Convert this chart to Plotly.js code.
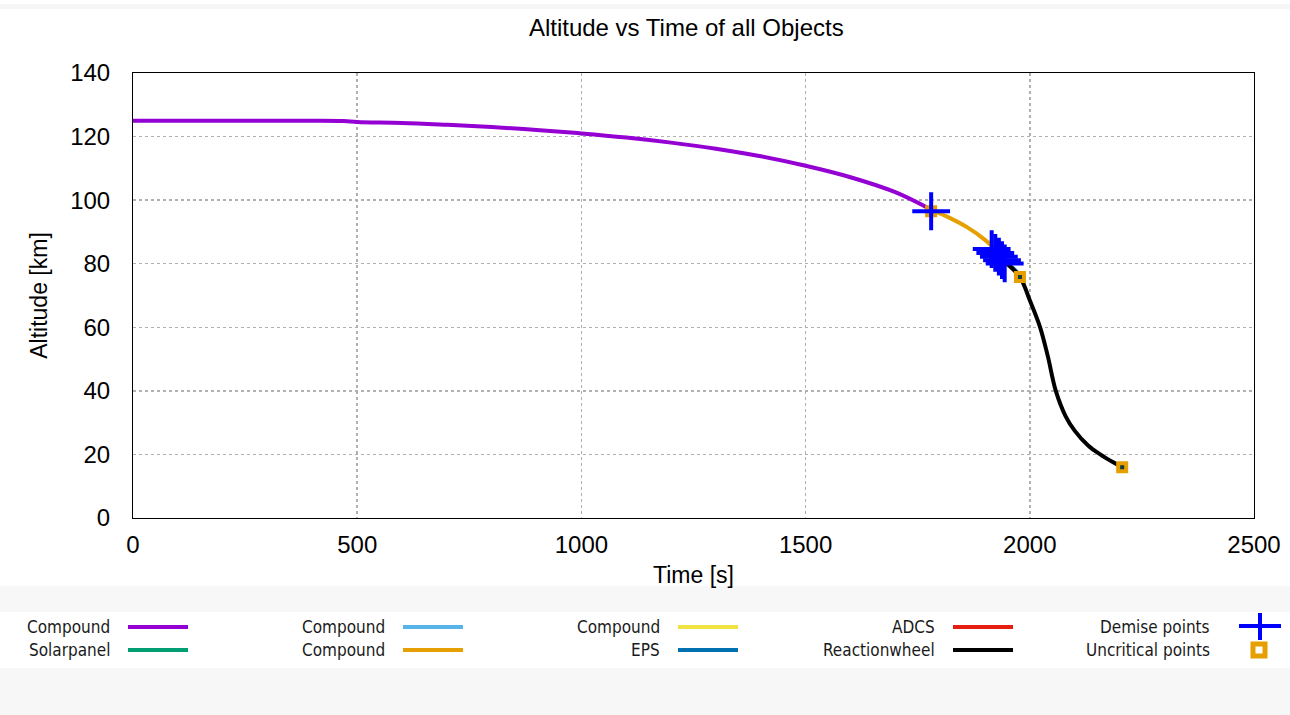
<!DOCTYPE html>
<html>
<head>
<meta charset="utf-8">
<script src="https://cdn.plot.ly/plotly-3.0.1.min.js"></script>
<style>html,body{margin:0;padding:0;background:#fff;}#chart{width:1290px;height:715px;}</style>
</head>
<body>
<div id="chart"></div>
<script>
// Data
const purpleT = [0, 100, 200, 300, 400, 470, 500, 600, 700, 800, 900, 1000, 1100, 1200, 1300, 1400, 1500, 1600, 1700, 1780];
const purpleAlt = [125, 125, 125, 125, 125, 124.9, 124.6, 124.3, 123.7, 123, 122.1, 121, 119.7, 118.1, 116.2, 113.8, 110.8, 107.2, 102.5, 97];
const orangeT = [1780, 1820, 1860, 1900, 1930, 1945];
const orangeAlt = [97, 94.5, 91.5, 87.5, 83.5, 80.5];
const epsT = [1945, 1965, 1980];
const epsAlt = [80.5, 78.3, 76];
const wheelT = [1945, 1978, 2000, 2023, 2040, 2058, 2080, 2100, 2130, 2157, 2185, 2206];
const wheelAlt = [80.5, 75.8, 68.5, 60, 51, 40, 32, 27.5, 22.8, 20, 17.6, 16];
const demiseT = [1780, 1915, 1923, 1931, 1938, 1944];
const demiseAlt = [96.5, 84.6, 83.4, 82.2, 81.1, 80.1];
const uncritT = [1780, 1978, 2206];
const uncritAlt = [96.5, 75.8, 16];
const legendNames = ["Compound", "Solarpanel", "Compound", "Compound", "Compound", "EPS", "ADCS", "Reactionwheel", "Demise points", "Uncritical points"];
const legendColors = ["#9400D3", "#009E73", "#56B4E9", "#E69F00", "#F0E442", "#0072B2", "#E51E10", "#000000", "#0000FF", "#E69F00"];
const xTicks = [0, 500, 1000, 1500, 2000, 2500];
const yTicks = [0, 20, 40, 60, 80, 100, 120, 140];

const lw = 4;
const traces = [
  {x: purpleT, y: purpleAlt, mode: 'lines', name: 'Compound', line: {color: '#9400D3', width: lw, shape: 'spline'}},
  {x: orangeT, y: orangeAlt, mode: 'lines', name: 'Compound', line: {color: '#E69F00', width: lw, shape: 'spline'}},
  {x: epsT, y: epsAlt, mode: 'lines', name: 'EPS', line: {color: '#0072B2', width: lw, shape: 'spline'}},
  {x: wheelT, y: wheelAlt, mode: 'lines', name: 'Reactionwheel', line: {color: '#000000', width: lw, shape: 'spline'}},
  {x: uncritT, y: uncritAlt, mode: 'markers', name: 'Uncritical points',
   marker: {symbol: 'square', size: 8, color: '#123a40', line: {color: '#E69F00', width: 4}}},
  {x: demiseT, y: demiseAlt, mode: 'markers', name: 'Demise points',
   marker: {symbol: 'cross-thin', size: 27, color: '#0000FF', line: {color: '#0000FF', width: 4}}}
];

// pixel helpers for the legend drawn below the plot
const L = 133, R = 1254, T = 73, B = 518;
const px = p => (p - L) / (R - L);
const py = p => (B - p) / (B - T);

const shapes = [
  {type: 'rect', xref: 'paper', yref: 'paper', x0: px(0), x1: px(1290), y0: py(9), y1: py(4), fillcolor: '#f6f6f6', line: {width: 0}, layer: 'below'},
  {type: 'rect', xref: 'paper', yref: 'paper', x0: px(0), x1: px(1290), y0: py(612), y1: py(586), fillcolor: '#f7f7f7', line: {width: 0}, layer: 'below'},
  {type: 'rect', xref: 'paper', yref: 'paper', x0: px(0), x1: px(1290), y0: py(715), y1: py(668), fillcolor: '#f7f7f7', line: {width: 0}, layer: 'below'}
];
const annotations = [];
const colText = [112, 387, 662, 937, 1212];
const colLine = [128, 403, 678, 953];
const rowY = [627, 650];
legendNames.forEach((name, i) => {
  const c = Math.floor(i / 2), r = i % 2;
  annotations.push({xref: 'paper', yref: 'paper', x: px(colText[c]), y: py(rowY[r]), xanchor: 'right', yanchor: 'middle',
    text: name, showarrow: false, font: {family: 'DejaVu Sans Condensed, DejaVu Sans', size: 17, color: '#1a1a1a'}});
  if (c < 4) {
    shapes.push({type: 'line', xref: 'paper', yref: 'paper', x0: px(colLine[c]), x1: px(colLine[c] + 60), y0: py(rowY[r]), y1: py(rowY[r]),
      line: {color: legendColors[i], width: 4}});
  }
});
// legend symbols for the marker entries
shapes.push({type: 'line', xref: 'paper', yref: 'paper', x0: px(1239), x1: px(1281), y0: py(626), y1: py(626), line: {color: '#0000FF', width: 4}});
shapes.push({type: 'line', xref: 'paper', yref: 'paper', x0: px(1260), x1: px(1260), y0: py(613), y1: py(640), line: {color: '#0000FF', width: 4}});
shapes.push({type: 'rect', xref: 'paper', yref: 'paper', x0: px(1253), x1: px(1265), y0: py(656), y1: py(644), fillcolor: '#ffffff', line: {color: '#E69F00', width: 5}});

const font = 'Liberation Sans, Arial, sans-serif';
const layout = {
  width: 1290, height: 715,
  margin: {l: L, r: 1290 - R, t: T, b: 715 - B, pad: 0},
  paper_bgcolor: '#ffffff', plot_bgcolor: '#ffffff',
  showlegend: false,
  title: {text: 'Altitude vs Time of all Objects', x: 0.532, xanchor: 'center', y: 0.961, yanchor: 'middle',
    font: {family: font, size: 24, color: '#000'}},
  xaxis: {range: [0, 2500], tickvals: xTicks, ticktext: xTicks.map(String),
    showline: true, mirror: true, linecolor: '#000', linewidth: 1, zeroline: false,
    showgrid: true, gridcolor: '#b0b0b0', griddash: 'dot', gridwidth: 1.5,
    ticks: '', ticklabelstandoff: 5,
    tickfont: {family: font, size: 24, color: '#000'},
    title: {text: 'Time [s]', standoff: 10, font: {family: font, size: 23, color: '#000'}}},
  yaxis: {range: [0, 140], tickvals: yTicks, ticktext: yTicks.map(String),
    showline: true, mirror: true, linecolor: '#000', linewidth: 1, zeroline: false,
    showgrid: true, gridcolor: '#b0b0b0', griddash: 'dot', gridwidth: 1.5,
    ticks: '', ticklabelstandoff: 17,
    tickfont: {family: font, size: 24, color: '#000'},
    title: {text: 'Altitude [km]', standoff: 16, font: {family: font, size: 23, color: '#000'}}},
  shapes: shapes,
  annotations: annotations
};
Plotly.newPlot('chart', traces, layout, {displayModeBar: false, staticPlot: true});
</script>
</body>
</html>
